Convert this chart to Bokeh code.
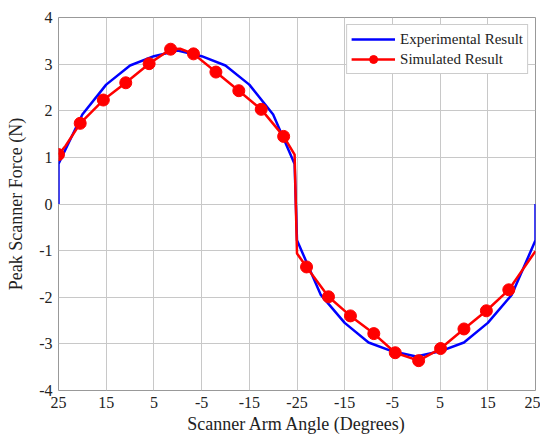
from bokeh.plotting import figure
from bokeh.models import FixedTicker, Range1d
from bokeh.embed import file_html
from bokeh.resources import INLINE

# sweep position (0..100) : angle goes 25 -> -25 -> 25
tick_pos = [0, 10, 20, 30, 40, 50, 60, 70, 80, 90, 100]
tick_labels = ["25", "15", "5", "-5", "-15", "-25", "-15", "-5", "5", "15", "25"]
y_ticks = [-4, -3, -2, -1, 0, 1, 2, 3, 4]
y_labels = ["-4", "-3", "-2", "-1", "0", "1", "2", "3", "4"]

exp_t = [0, 0, 5, 10, 15, 20, 25, 30, 35, 40, 45, 49.5, 50, 55, 60, 65, 70, 75, 80, 85, 90, 95, 100, 100]
exp_f = [0, 0.86, 1.92, 2.56, 2.97, 3.17, 3.29, 3.17, 2.97, 2.56, 1.92, 0.86, -0.78, -1.95, -2.55, -2.97,
         -3.16, -3.27, -3.16, -2.97, -2.55, -1.95, -0.78, 0]

sim_line_t = [0, 1.5, 4.55, 9.4, 14.1, 19, 23.5, 25.5, 28.3, 33, 37.8, 42.5, 47.2, 49.5, 50, 52, 56.6, 61.2,
              66.1, 70.6, 75.5, 80.1, 85, 89.7, 94.4, 100]
sim_line_f = [1.06, 1.25, 1.73, 2.23, 2.60, 3.01, 3.32, 3.33, 3.22, 2.83, 2.43, 2.03, 1.45, 1.06, -1.06, -1.35,
              -1.99, -2.40, -2.78, -3.19, -3.36, -3.10, -2.68, -2.29, -1.84, -1.01]

sim_mark_t = [0, 4.55, 9.4, 14.1, 19, 23.5, 28.3, 33, 37.8, 42.5, 47.2, 52, 56.6, 61.2, 66.1, 70.6, 75.5,
              80.1, 85, 89.7, 94.4]
sim_mark_f = [1.06, 1.73, 2.23, 2.60, 3.01, 3.32, 3.22, 2.83, 2.43, 2.03, 1.45, -1.35, -1.99, -2.40, -2.78,
              -3.19, -3.36, -3.10, -2.68, -2.29, -1.84]

FONT = "Liberation Serif"

p = figure(width=540, height=436, output_backend="svg", toolbar_location=None,
           x_range=Range1d(0, 100), y_range=Range1d(-4, 4),
           min_border_left=58, min_border_right=5, min_border_top=17, min_border_bottom=44)

p.line(exp_t, exp_f, line_color="#0000ff", line_width=2.5, legend_label="Experimental Result")
p.line(sim_line_t, sim_line_f, line_color="#ff0000", line_width=2.5, legend_label="Simulated Result")
p.scatter(sim_mark_t, sim_mark_f, size=12, fill_color="#ff0000", line_color="#ff0000",
          legend_label="Simulated Result")

p.xaxis.ticker = FixedTicker(ticks=tick_pos)
p.xaxis.major_label_overrides = {t: l for t, l in zip(tick_pos, tick_labels)}
p.yaxis.ticker = FixedTicker(ticks=y_ticks)
p.yaxis.major_label_overrides = {t: l for t, l in zip(y_ticks, y_labels)}

for ax in (p.xaxis, p.yaxis):
    ax.axis_line_color = None
    ax.major_tick_line_color = None
    ax.minor_tick_line_color = None
    ax.major_tick_in = 0
    ax.major_tick_out = 0
    ax.major_label_text_font = FONT
    ax.major_label_text_font_size = "16px"
    ax.major_label_text_color = "#222222"
    ax.axis_label_text_font = FONT
    ax.axis_label_text_font_size = "18px"
    ax.axis_label_text_font_style = "normal"
    ax.axis_label_text_color = "#222222"

p.xaxis.axis_label = "Scanner Arm Angle (Degrees)"
p.yaxis.axis_label = "Peak Scanner Force (N)"
p.xaxis.major_label_standoff = 6
p.yaxis.major_label_standoff = 6
p.xaxis.axis_label_standoff = 3
p.yaxis.axis_label_standoff = 10

p.grid.grid_line_color = "#c8c8c8"
p.grid.grid_line_width = 1
p.outline_line_color = "#999999"
p.outline_line_width = 1

p.legend.location = "top_right"
p.legend.margin = 7
p.legend.padding = 4
p.legend.spacing = 0
p.legend.glyph_width = 44
p.legend.glyph_height = 20
p.legend.label_height = 20
p.legend.label_standoff = 5
p.legend.label_text_font = FONT
p.legend.label_text_font_size = "15px"
p.legend.label_text_color = "#222222"
p.legend.border_line_color = "#999999"
p.legend.border_line_width = 1
p.legend.background_fill_alpha = 1

open("out.html", "w").write(file_html(p, INLINE))
